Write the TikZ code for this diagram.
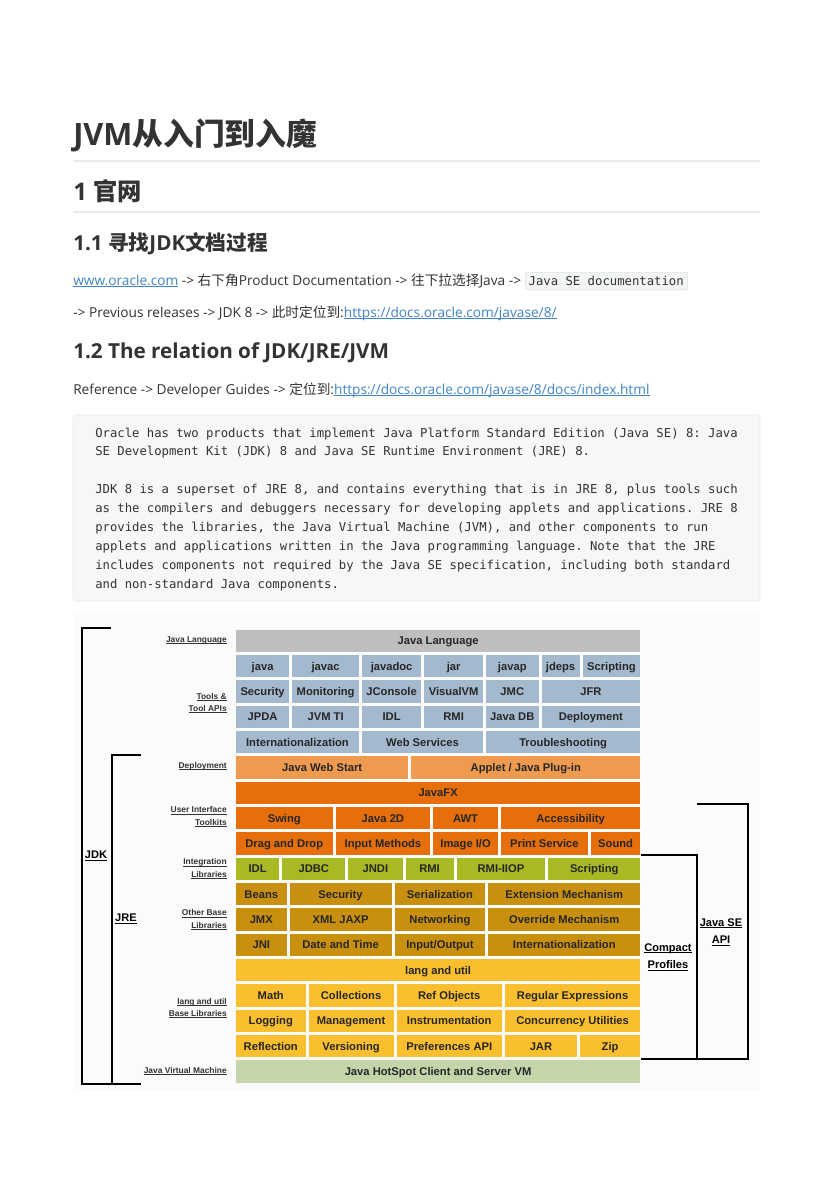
\documentclass[tikz,border=0pt]{standalone}
\usepackage{fontspec}
\usepackage{xcolor}
\usepackage{tikz}
\usetikzlibrary{
  positioning
}
\setmainfont{Open Sans}
\setmonofont{DejaVu Sans Mono}
\newfontfamily\cjk{Noto Sans CJK SC}
\newfontfamily\arial{Liberation Sans}

\definecolor{bodytext}{HTML}{333333}
\definecolor{linkblue}{HTML}{4183C4}
\definecolor{rulegray}{HTML}{EAEAEA}
\definecolor{codebg}{HTML}{F7F7F7}
\definecolor{codeborder}{HTML}{E7EAED}
\definecolor{inlinebg}{HTML}{F3F4F4}
\definecolor{picbg}{HTML}{FBFBFB}
\definecolor{langgray}{HTML}{BEBEBE}
\definecolor{toolblue}{HTML}{A4B9CE}
\definecolor{deployorange}{HTML}{EE9B50}
\definecolor{uiorange}{HTML}{E66F0B}
\definecolor{integgreen}{HTML}{A8B923}
\definecolor{basegold}{HTML}{C99010}
\definecolor{langyellow}{HTML}{F9BF2E}
\definecolor{vmgreen}{HTML}{C3D5A9}

\newcommand{\zh}[1]{{\cjk #1}}
\newcommand{\lnk}[1]{{\color{linkblue}\setbox0\hbox{#1}\rlap{\rule[-0.13em]{\wd0}{0.06em}}\box0}}
\newcommand{\lbl}[1]{\setbox0\hbox{#1}\rlap{\rule[-0.16em]{\wd0}{0.08em}}\box0}
\newcommand{\icode}[1]{{\setlength{\fboxsep}{2.6pt}\setlength{\fboxrule}{0.4pt}\fcolorbox{codeborder}{inlinebg}{\fontsize{9.2}{11}\selectfont\ttfamily #1}}}
% one row of the platform diagram: row, colour, left/right/label list
\newcommand{\layerrow}[3]{%
  \pgfmathsetmacro{\ytop}{629.3+(#1-1)*25.34}
  \foreach \xa/\xb/\txt [count=\k] in {#3}{
    \pgfmathsetmacro{\cellw}{(\xb-\xa)*0.75}
    \node[cellbox, fill=#2, minimum width=\cellw pt] (r#1c\k) at (\xa,\ytop) {\txt};
  }%
}

\begin{document}
\begin{tikzpicture}[x=0.75pt, y=-0.75pt,
  cellbox/.style={anchor=north west, inner sep=0pt, minimum height=16.8pt, text height=6pt, text depth=0pt, font=\arial\fontsize{8.4}{10}\selectfont\bfseries, text=black!85},
  grouplabel/.style={anchor=east, inner sep=0pt, align=right, font=\arial\fontsize{6.3}{9.3}\selectfont\bfseries, text=black!80},
  bracketlabel/.style={inner sep=0pt, align=center, font=\arial\fontsize{8.3}{13.3}\selectfont\bfseries},
  bracket/.style={line width=1.5pt},
  heading/.style={anchor=base west, inner sep=0pt, text=bodytext},
  bodyline/.style={anchor=base west, inner sep=0pt, text=bodytext, font=\fontsize{10.27}{13}\selectfont},
  codeline/.style={anchor=base west, inner sep=0pt, text=bodytext, font=\fontsize{9.2}{11}\selectfont\ttfamily}
]
  \useasboundingbox[fill=white] (0,0) rectangle (833,1177);

  % headings and text
  \node[heading, font=\fontsize{23.1}{28}\selectfont\bfseries] (title) at (73,146) {JVM\zh{\bfseries 从入门到入魔}};
  \draw[rulegray, line width=0.8pt] (73,161) -- (760,161);
  \node[heading, font=\fontsize{18.2}{22}\selectfont\bfseries] (sec1) at (73,200) {1 \zh{\bfseries 官网}};
  \draw[rulegray, line width=0.8pt] (73,212) -- (760,212);
  \node[heading, font=\fontsize{15.5}{19}\selectfont\bfseries] (sec11) at (73,250) {1.1 \zh{\bfseries 寻找}JDK\zh{\bfseries 文档过程}};
  \node[bodyline] (step1) at (73,285) {\lnk{www.oracle.com} -> \zh{右下角}Product Documentation -> \zh{往下拉选择}Java -> \icode{Java SE documentation}};
  \node[bodyline] (step2) at (73,317) {-> Previous releases -> JDK 8 -> \zh{此时定位到}:\lnk{https://docs.oracle.com/javase/8/}};
  \node[heading, font=\fontsize{15.5}{19}\selectfont\bfseries] (sec12) at (73,358) {1.2 The relation of JDK/JRE/JVM};
  \node[bodyline] (step3) at (73,394) {Reference -> Developer Guides -> \zh{定位到}:\lnk{https://docs.oracle.com/javase/8/docs/index.html}};

  % quoted block
  \draw[codeborder, fill=codebg, rounded corners=2pt] (73,415) rectangle (760,601);
  \foreach \y/\txt [count=\i] in {
    437/{Oracle has two products that implement Java Platform Standard Edition (Java SE) 8: Java},
    455.9/{SE Development Kit (JDK) 8 and Java SE Runtime Environment (JRE) 8.},
    493.7/{JDK 8 is a superset of JRE 8, and contains everything that is in JRE 8, plus tools such},
    512.6/{as the compilers and debuggers necessary for developing applets and applications. JRE 8},
    531.5/{provides the libraries, the Java Virtual Machine (JVM), and other components to run},
    550.4/{applets and applications written in the Java programming language. Note that the JRE},
    569.3/{includes components not required by the Java SE specification, including both standard},
    588.2/{and non-standard Java components.}}{
    \node[codeline] (quote\i) at (95,\y) {\txt};
  }

  % platform diagram
  \fill[picbg] (73,613) rectangle (760,1090);
  \layerrow{1}{langgray}{235.7/640/Java Language}
  \layerrow{2}{toolblue}{235.7/289/java, 292/358.7/javac, 361.7/421/javadoc, 424/482.7/jar, 485.7/538.3/javap, 541.3/579.3/jdeps, 582.3/640/Scripting}
  \layerrow{3}{toolblue}{235.7/289/Security, 292/358.7/Monitoring, 361.7/421/JConsole, 424/482.7/VisualVM, 485.7/538.3/JMC, 541.3/640/JFR}
  \layerrow{4}{toolblue}{235.7/289/JPDA, 292/358.7/JVM TI, 361.7/421/IDL, 424/482.7/RMI, 485.7/538.3/Java DB, 541.3/640/Deployment}
  \layerrow{5}{toolblue}{235.7/358.7/Internationalization, 361.7/482.7/Web Services, 485.7/640/Troubleshooting}
  \layerrow{6}{deployorange}{235.7/408/Java Web Start, 411/640/{Applet / Java Plug-in}}
  \layerrow{7}{uiorange}{235.7/640/JavaFX}
  \layerrow{8}{uiorange}{235.7/332.3/Swing, 335.3/430/Java 2D, 433/497.7/AWT, 500.7/640/Accessibility}
  \layerrow{9}{uiorange}{235.7/332.3/Drag and Drop, 335.3/430/Input Methods, 433/497.7/{Image I/O}, 500.7/587.7/Print Service, 590.7/640/Sound}
  \layerrow{10}{integgreen}{235.7/279/IDL, 282/345/JDBC, 348/402.3/JNDI, 405.3/453.3/RMI, 456.3/545/RMI-IIOP, 548/640/Scripting}
  \layerrow{11}{basegold}{235.7/286.3/Beans, 289.3/391.3/Security, 394.3/485/Serialization, 488/640/Extension Mechanism}
  \layerrow{12}{basegold}{235.7/286.3/JMX, 289.3/391.3/XML JAXP, 394.3/485/Networking, 488/640/Override Mechanism}
  \layerrow{13}{basegold}{235.7/286.3/JNI, 289.3/391.3/Date and Time, 394.3/485/{Input/Output}, 488/640/Internationalization}
  \layerrow{14}{langyellow}{235.7/640/lang and util}
  \layerrow{15}{langyellow}{235.7/305.3/Math, 308.3/393.3/Collections, 396.3/501.7/Ref Objects, 504.7/640/Regular Expressions}
  \layerrow{16}{langyellow}{235.7/305.3/Logging, 308.3/393.3/Management, 396.3/501.7/Instrumentation, 504.7/640/Concurrency Utilities}
  \layerrow{17}{langyellow}{235.7/305.3/Reflection, 308.3/393.3/Versioning, 396.3/501.7/Preferences API, 504.7/576.7/JAR, 579.7/640/Zip}
  \layerrow{18}{vmgreen}{235.7/640/Java HotSpot Client and Server VM}

  % group labels on the left
  \foreach \y/\txt [count=\i] in {640/{\lbl{Java Language}}, 703/{\lbl{Tools \&}\\\lbl{Tool APIs}}, 766/{\lbl{Deployment}},
    816.7/{\lbl{User Interface}\\\lbl{Toolkits}}, 868.7/{\lbl{Integration}\\\lbl{Libraries}},
    919.7/{\lbl{Other Base}\\\lbl{Libraries}}, 1008/{\lbl{lang and util}\\\lbl{Base Libraries}},
    1070.7/{\lbl{Java Virtual Machine}}}{
    \node[grouplabel] (group\i) at (227,\y) {\txt};
  }

  % brackets
  \draw[bracket] (111,628.3) -- (81.7,628.3) -- (81.7,1084) -- (141,1084);
  \draw[bracket] (141,755) -- (111.7,755) -- (111.7,1084);
  \draw[bracket] (641,855) -- (696.7,855) -- (696.7,1059) -- (641,1059);
  \draw[bracket] (696.7,804.3) -- (747.7,804.3) -- (747.7,1059) -- (696.7,1059);
  \node[bracketlabel] (jdk) at (96,856) {\lbl{JDK}};
  \node[bracketlabel] (jre) at (126,919) {\lbl{JRE}};
  \node[bracketlabel] (compact) at (668,957) {\lbl{Compact}\\\lbl{Profiles}};
  \node[bracketlabel] (seapi) at (721,932) {\lbl{Java SE}\\\lbl{API}};
\end{tikzpicture}
\end{document}
